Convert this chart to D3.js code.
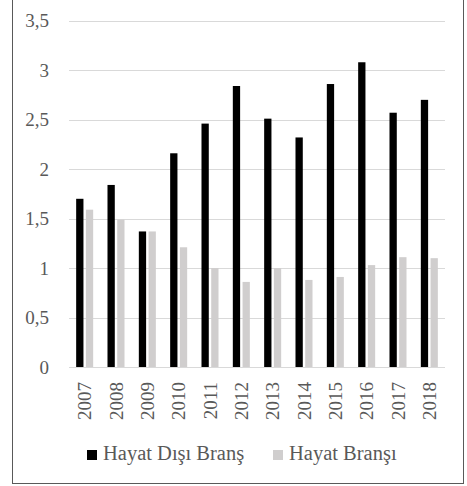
<!DOCTYPE html>
<html>
<head>
<meta charset="utf-8">
<script src="https://cdn.jsdelivr.net/npm/d3@7"></script>
<style>
  body { margin: 0; background: #fff; }
</style>
</head>
<body>
<script>
var width = 467,
    height = 486;

// data
var years = ["2007", "2008", "2009", "2010", "2011", "2012", "2013", "2014", "2015", "2016", "2017", "2018"];
var hayatDisi = [1.70, 1.84, 1.37, 2.16, 2.46, 2.84, 2.51, 2.32, 2.86, 3.08, 2.57, 2.70];
var hayat = [1.59, 1.49, 1.37, 1.21, 1.00, 0.86, 1.00, 0.88, 0.91, 1.03, 1.11, 1.10];
var yTicks = [0, 0.5, 1, 1.5, 2, 2.5, 3, 3.5];
var seriesNames = ["Hayat Dışı Branş", "Hayat Branşı"];
var colors = ["#000000", "#d0cece"];

var plot = {left: 69, right: 445, top: 20.7, bottom: 367};

var svg = d3.select("body").append("svg")
    .attr("width", width)
    .attr("height", height)
    .attr("font-family", "'Liberation Serif', 'Times New Roman', Times, serif");

// chart border
svg.append("rect")
    .attr("x", 12.5).attr("y", -2)
    .attr("width", 451).attr("height", 485.5)
    .attr("fill", "none")
    .attr("stroke", "#595959")
    .attr("stroke-width", 1);

var y = d3.scaleLinear()
    .domain([0, 3.5])
    .range([plot.bottom, plot.top]);

var x0 = d3.scaleBand()
    .domain(years)
    .range([plot.left, plot.right])
    .paddingInner(0.457)
    .paddingOuter(0.2285);

var x1 = d3.scaleBand()
    .domain([0, 1])
    .range([0, x0.bandwidth()])
    .paddingInner(0.25);

// gridlines
svg.append("g")
    .selectAll("line")
    .data(yTicks)
    .enter().append("line")
      .attr("x1", plot.left)
      .attr("x2", plot.right)
      .attr("y1", function(d) { return Math.round(y(d)) + 0.5; })
      .attr("y2", function(d) { return Math.round(y(d)) + 0.5; })
      .attr("stroke", "#d9d9d9")
      .attr("stroke-width", 1);

// y labels
var fmt = function(d) { return String(d).replace(".", ","); };
svg.append("g")
    .selectAll("text")
    .data(yTicks)
    .enter().append("text")
      .attr("x", 49)
      .attr("y", function(d) { return y(d); })
      .attr("dy", "0.35em")
      .attr("text-anchor", "end")
      .attr("fill", "#595959")
      .style("font-size", "19px")
      .text(fmt);

// bars
var groups = svg.append("g")
    .selectAll("g")
    .data(years)
    .enter().append("g")
      .attr("transform", function(d) { return "translate(" + x0(d) + ",0)"; });

groups.selectAll("rect")
    .data(function(d, i) { return [hayatDisi[i], hayat[i]]; })
    .enter().append("rect")
      .attr("x", function(d, j) { return x1(j); })
      .attr("y", function(d) { return y(d); })
      .attr("width", x1.bandwidth())
      .attr("height", function(d) { return y(0) - y(d); })
      .attr("fill", function(d, j) { return colors[j]; });

// x labels (rotated)
svg.append("g")
    .selectAll("text")
    .data(years)
    .enter().append("text")
      .attr("transform", function(d) {
        return "translate(" + (x0(d) + x0.bandwidth() / 2) + ",382) rotate(-90)";
      })
      .attr("dy", "0.35em")
      .attr("text-anchor", "end")
      .attr("fill", "#595959")
      .style("font-size", "19px")
      .text(function(d) { return d; });

// legend
var legendX = [87, 273];
var legend = svg.append("g")
    .selectAll("g")
    .data(seriesNames)
    .enter().append("g")
      .attr("transform", function(d, i) { return "translate(" + legendX[i] + ",450)"; });

legend.append("rect")
    .attr("width", 10)
    .attr("height", 10)
    .attr("fill", function(d, i) { return colors[i]; });

legend.append("text")
    .attr("x", 16)
    .attr("y", 10)
    .attr("fill", "#595959")
    .style("font-size", "20.5px")
    .text(function(d) { return d; });
</script>
</body>
</html>
